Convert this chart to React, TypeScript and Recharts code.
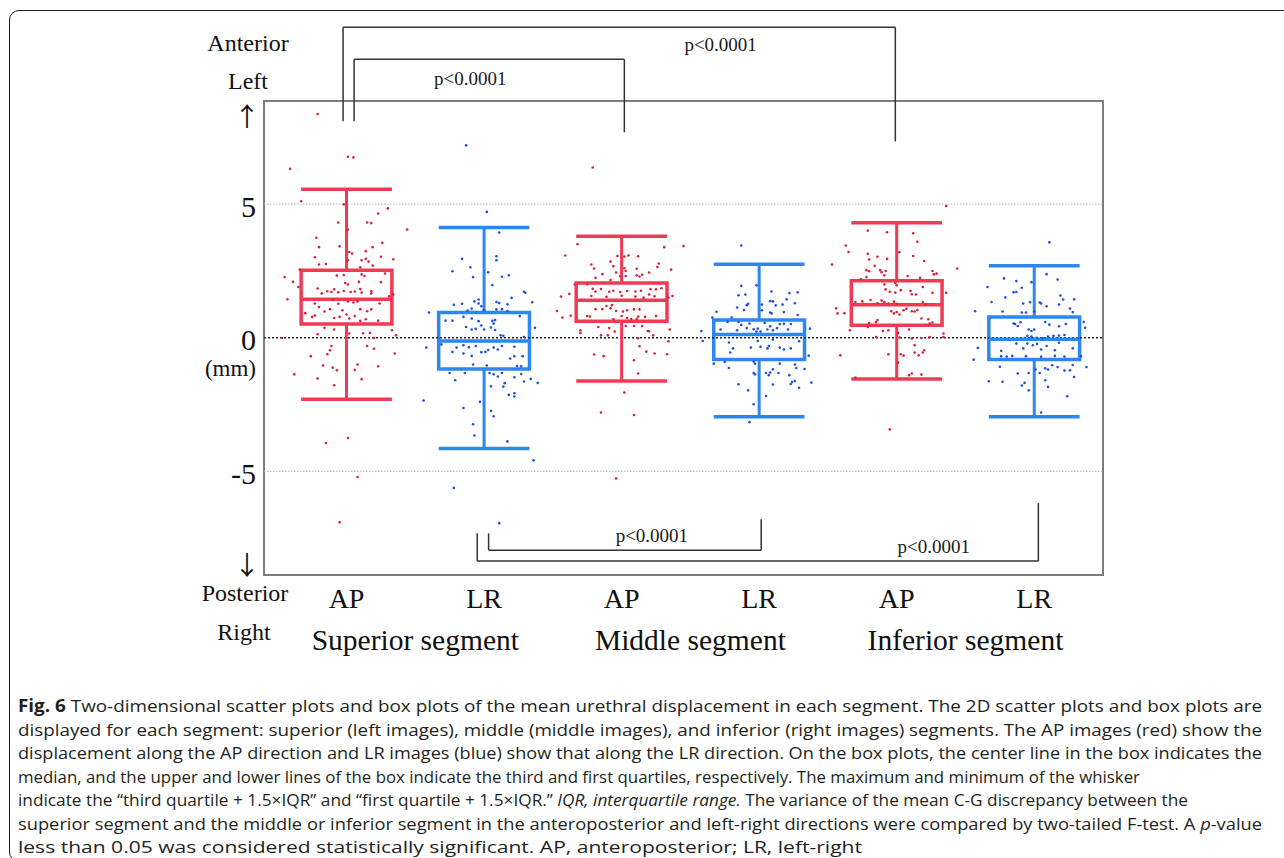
import React from 'react';
import {
  ComposedChart,
  Scatter,
  XAxis,
  YAxis,
  ReferenceArea,
  ReferenceLine,
  ReferenceDot,
} from 'recharts';

const SERIF = "'Liberation Serif', 'Times New Roman', serif";
const SANS = "'Open Sans', 'Noto Sans', sans-serif";

// categories and axes
const categories = ['AP', 'LR', 'AP', 'LR', 'AP', 'LR'];
const positions = [1, 2, 3, 4, 5, 6];
const segments = ['Superior segment', 'Middle segment', 'Inferior segment'];
const segmentPositions = [1.5, 3.5, 5.5];
const yTicks = [-5, 0, 5];
const xDomain: [number, number] = [0.4, 6.5];
const yDomain: [number, number] = [-8.88, 8.86];

// [lower whisker, Q1, median, Q3, upper whisker] in mm
const boxStats = [
  [-2.3, 0.51, 1.44, 2.53, 5.56],
  [-4.15, -1.17, -0.12, 0.94, 4.13],
  [-1.62, 0.62, 1.4, 2.05, 3.8],
  [-2.96, -0.81, 0.12, 0.66, 2.75],
  [-1.54, 0.47, 1.23, 2.13, 4.3],
  [-2.96, -0.81, -0.06, 0.78, 2.69],
];

// scatter points: [horizontal jitter, displacement mm]
const apSuperior: [number, number][] = [
  [-0.21, 8.37], [0.01, 6.77], [0.05, 6.75], [-0.41, 6.32], [-0.33, 5.11], [-0.02, 4.99], [0.3, 4.84], [0.23, 4.65],
  [-0.06, 4.31], [0.01, 4.05], [0.15, 4.31], [0.18, 4.29], [0.44, 4.05], [-0.22, 3.74], [-0.2, 3.39], [-0.05, 3.42],
  [0.19, 3.39], [0.26, 3.55], [-0.23, 3.01], [0.02, 3.21], [0.04, 3.15], [0.14, 3.24], [0.11, 2.9], [0.14, 2.95],
  [0.16, 2.85], [0.19, 2.7], [0.25, 3.03], [0.34, 2.94], [-0.2, 2.74], [-0.15, 2.76], [0.01, 2.9], [0.1, 2.64],
  [-0.45, 2.27], [-0.39, 2.09], [-0.35, 1.9], [-0.34, 2.55], [-0.07, 2.33], [-0.02, 2.35], [-0.01, 2.05], [0.01, 1.99],
  [0.11, 2.37], [0.13, 2.31], [0.09, 2.09], [0.25, 2.08], [0.28, 2.4], [-0.21, 1.84], [-0.18, 1.66], [-0.14, 1.74],
  [-0.11, 1.71], [-0.09, 1.81], [-0.06, 1.7], [-0.02, 1.75], [0.03, 1.71], [0.06, 1.73], [0.1, 1.82], [0.11, 1.69],
  [0.18, 1.74], [0.18, 1.66], [0.31, 1.55], [0.34, 1.62], [-0.43, 1.44], [-0.23, 1.28], [-0.2, 1.15], [-0.16, 0.98],
  [-0.12, 1.07], [-0.1, 1.42], [-0.06, 1.27], [-0.03, 1.03], [0.01, 1.36], [0.05, 1.32], [0.08, 1.36], [0.1, 1.07],
  [0.15, 0.99], [0.18, 1.06], [0.24, 1.28], [-0.3, 0.92], [-0.25, 0.78], [-0.23, 0.83], [-0.09, 0.74], [-0.05, 0.78],
  [0.0, 0.87], [0.02, 0.72], [0.06, 0.81], [0.23, 0.64], [0.1, 0.63], [0.14, 0.69], [-0.16, 0.37], [-0.09, 0.31],
  [0.33, 0.28], [0.36, 0.09], [-0.21, 0.13], [0.02, 0.16], [0.12, 0.17], [0.17, 0.18], [-0.47, -0.01], [0.2, -0.01],
  [-0.11, -0.31], [-0.12, -0.47], [-0.14, -0.62], [0.15, -0.31], [0.2, -0.41], [-0.26, -0.69], [0.35, -0.59],
  [-0.17, -1.04], [-0.1, -1.12], [-0.07, -1.22], [0.08, -1.0], [0.06, -1.21], [0.23, -1.07], [-0.38, -1.37],
  [-0.21, -1.53], [0.11, -1.55], [-0.09, -1.78], [-0.15, -3.94], [0.01, -3.75], [0.08, -5.21], [-0.05, -6.91],
];

const lrSuperior: [number, number][] = [
  [-0.13, 7.2], [0.02, 4.71], [0.11, 3.94], [0.09, 3.05], [0.09, 2.9], [-0.16, 2.95], [-0.1, 2.64], [-0.23, 2.49],
  [0.03, 2.45], [-0.08, 2.27], [0.13, 2.28], [0.18, 2.34], [0.06, 1.97], [0.29, 1.72], [0.3, 1.68], [0.2, 1.49],
  [0.35, 1.33], [-0.07, 1.36], [-0.04, 1.43], [-0.04, 1.28], [-0.22, 1.23], [-0.16, 1.27], [-0.09, 1.09], [-0.12, 1.02],
  [-0.02, 1.18], [0.0, 1.03], [0.09, 1.34], [0.11, 1.3], [0.09, 1.06], [0.13, 1.07], [0.17, 1.25], [0.17, 1.0],
  [-0.4, 0.94], [-0.28, 0.64], [-0.23, 0.64], [-0.15, 0.78], [-0.09, 0.72], [-0.13, 0.4], [-0.09, 0.31], [-0.04, 0.62],
  [-0.02, 0.46], [-0.06, 0.33], [0.0, 0.31], [0.06, 0.63], [0.08, 0.66], [0.07, 0.53], [0.05, 0.38], [0.08, 0.29],
  [0.26, 0.81], [0.12, 0.09], [0.14, 0.07], [0.29, 0.03], [0.37, 0.37], [-0.31, -0.25], [-0.23, -0.53], [-0.2, -0.37],
  [-0.15, -0.28], [-0.11, -0.36], [-0.15, -0.59], [-0.09, -0.68], [-0.06, -0.31], [-0.02, -0.54], [0.01, -0.53],
  [0.03, -0.46], [0.07, -0.37], [0.1, -0.44], [0.13, -0.31], [0.22, -0.34], [0.19, -0.78], [0.22, -0.69], [0.28, -0.69],
  [-0.42, -0.37], [-0.08, -1.0], [0.02, -1.04], [0.24, -1.06], [0.27, -1.07], [-0.25, -1.32], [-0.14, -1.32],
  [-0.21, -1.59], [0.04, -1.32], [0.07, -1.37], [0.1, -1.45], [0.13, -1.32], [0.22, -1.48], [0.27, -1.36], [0.29, -1.64],
  [0.34, -1.54], [0.39, -1.69], [0.05, -1.82], [0.14, -1.83], [0.15, -1.7], [0.18, -2.14], [0.22, -2.08], [0.22, -2.2],
  [-0.44, -2.35], [-0.03, -2.4], [-0.15, -2.63], [0.05, -2.74], [0.07, -2.94], [-0.08, -3.24], [-0.07, -3.66],
  [0.17, -3.88], [0.36, -4.59], [-0.22, -5.62], [0.11, -6.94],
];

const apMiddle: [number, number][] = [
  [-0.21, 6.37], [-0.32, 3.5], [0.31, 3.39], [0.45, 3.43], [-0.41, 3.08], [-0.03, 3.06], [0.02, 3.04], [0.05, 3.08],
  [0.12, 3.05], [-0.08, 2.85], [-0.06, 2.68], [-0.22, 2.74], [-0.2, 2.59], [0.02, 2.6], [0.03, 2.5], [0.27, 2.78],
  [0.26, 2.65], [0.36, 2.55], [-0.14, 2.38], [-0.04, 2.44], [-0.01, 2.3], [0.03, 2.31], [0.11, 2.58], [0.11, 2.34],
  [0.13, 2.29], [0.15, 2.36], [0.2, 2.44], [-0.19, 2.24], [-0.08, 2.16], [-0.34, 1.99], [-0.25, 2.0], [-0.21, 1.83],
  [-0.19, 1.73], [-0.15, 1.82], [-0.09, 1.72], [-0.06, 1.76], [-0.01, 1.71], [0.04, 1.75], [0.1, 1.73], [0.14, 1.76],
  [0.21, 1.82], [0.25, 1.81], [0.29, 1.85], [-0.44, 1.54], [-0.38, 1.64], [-0.22, 1.56], [-0.11, 1.53], [0.0, 1.57],
  [0.1, 1.54], [0.16, 1.5], [0.2, 1.62], [0.24, 1.55], [0.34, 1.5], [0.37, 1.56], [-0.47, 1.0], [-0.43, 0.76],
  [-0.37, 0.82], [-0.25, 0.81], [-0.23, 0.79], [-0.19, 1.07], [-0.14, 1.07], [-0.08, 1.1], [-0.04, 1.0], [-0.11, 1.19],
  [-0.07, 1.22], [0.01, 0.98], [0.04, 1.03], [0.09, 1.06], [0.13, 1.06], [0.0, 0.81], [0.04, 0.74], [0.12, 0.79],
  [0.17, 0.78], [-0.06, 0.69], [0.07, 0.69], [0.11, 0.7], [0.25, 0.81], [-0.3, 0.28], [-0.3, 0.18], [-0.17, 0.4],
  [-0.09, 0.36], [-0.05, 0.23], [0.03, 0.44], [0.09, 0.44], [0.15, 0.44], [0.19, 0.25], [0.2, 0.24], [0.35, 0.31],
  [-0.15, 0.09], [-0.1, 0.09], [0.23, 0.09], [0.12, -0.02], [0.34, -0.13], [0.13, -0.32], [0.18, -0.52], [0.24, -0.59],
  [0.33, -0.62], [-0.2, -0.63], [-0.13, -0.69], [0.09, -0.84], [0.12, -1.34], [0.02, -2.05], [-0.15, -2.8],
  [0.09, -2.89], [-0.04, -5.27],
];

const lrMiddle: [number, number][] = [
  [-0.13, 3.45], [-0.13, 1.94], [-0.02, 1.96], [-0.15, 1.59], [-0.1, 1.62], [0.09, 1.73], [0.22, 1.67], [0.28, 1.7],
  [0.2, 1.44], [0.17, 1.24], [0.26, 1.29], [0.08, 1.37], [0.1, 1.36], [0.12, 1.21], [-0.16, 1.13], [-0.11, 1.04],
  [-0.09, 1.22], [-0.08, 1.27], [0.02, 1.24], [0.02, 1.03], [-0.31, 0.97], [-0.2, 0.76], [-0.34, 0.76], [0.08, 0.94],
  [0.09, 0.91], [0.18, 0.96], [0.28, 0.85], [-0.28, 0.31], [-0.23, 0.59], [-0.15, 0.59], [-0.13, 0.48], [-0.16, 0.28],
  [-0.09, 0.36], [-0.07, 0.53], [-0.04, 0.32], [-0.02, 0.23], [-0.01, 0.34], [0.01, 0.23], [0.04, 0.55], [0.06, 0.31],
  [0.08, 0.43], [0.1, 0.28], [0.13, 0.36], [0.15, 0.51], [0.18, 0.52], [0.21, 0.31], [0.23, 0.51], [0.37, 0.34],
  [-0.42, 0.25], [-0.41, -0.12], [-0.22, -0.18], [-0.19, -0.4], [-0.21, -0.55], [-0.06, -0.37], [-0.01, -0.12],
  [0.01, -0.34], [0.06, -0.4], [0.07, -0.31], [0.1, -0.07], [0.15, -0.37], [0.18, -0.44], [0.23, -0.4], [0.29, -0.13],
  [0.36, -0.67], [0.33, -1.17], [-0.33, -0.97], [-0.25, -0.91], [-0.22, -1.13], [-0.04, -0.89], [-0.03, -0.97],
  [-0.04, -1.32], [-0.03, -1.37], [0.05, -1.32], [0.07, -1.4], [0.08, -1.3], [0.1, -1.18], [0.14, -1.32], [0.15, -0.97],
  [0.26, -1.0], [0.27, -1.13], [0.22, -1.4], [0.23, -1.73], [0.24, -1.66], [0.26, -1.62], [0.29, -1.87], [0.38, -1.68],
  [-0.15, -1.74], [-0.08, -1.97], [0.1, -1.75], [0.05, -2.18], [-0.04, -2.49], [-0.07, -3.16],
];

const apInferior: [number, number][] = [
  [0.36, 4.93], [-0.21, 4.01], [-0.07, 3.95], [0.12, 3.91], [0.15, 3.59], [-0.37, 3.45], [-0.35, 3.21], [-0.21, 3.14],
  [-0.14, 3.03], [-0.07, 2.95], [0.02, 3.2], [0.12, 3.06], [-0.47, 2.74], [-0.2, 2.93], [-0.16, 2.69], [0.2, 2.87],
  [0.44, 2.59], [-0.22, 2.53], [-0.2, 2.49], [-0.12, 2.53], [-0.11, 2.45], [-0.09, 2.34], [-0.08, 2.5], [0.08, 2.31],
  [0.17, 2.24], [0.26, 2.5], [0.27, 2.37], [0.29, 2.4], [-0.26, 2.19], [-0.22, 2.27], [-0.09, 1.99], [-0.01, 2.05],
  [0.0, 1.96], [-0.08, 1.81], [-0.05, 1.72], [-0.01, 1.69], [0.03, 1.78], [0.1, 1.75], [0.14, 1.62], [0.19, 1.9],
  [0.26, 1.68], [0.36, 1.68], [0.11, 1.63], [-0.3, 1.34], [-0.25, 1.36], [-0.19, 1.41], [-0.14, 1.29], [-0.11, 1.39],
  [-0.09, 1.33], [-0.06, 1.28], [-0.02, 1.35], [0.0, 1.27], [0.19, 1.34], [0.21, 1.25], [-0.44, 1.1], [-0.43, 0.91],
  [-0.38, 0.92], [-0.04, 0.99], [-0.02, 0.91], [0.0, 0.96], [0.02, 0.87], [0.05, 1.03], [0.07, 1.08], [0.11, 0.99],
  [0.13, 0.98], [0.15, 1.04], [0.18, 0.72], [0.23, 0.69], [0.24, 0.53], [0.26, 0.57], [-0.2, 0.55], [-0.15, 0.59],
  [-0.14, 0.66], [-0.34, 0.28], [-0.21, 0.4], [-0.1, 0.25], [-0.06, 0.28], [0.01, 0.18], [0.02, 0.01], [0.09, 0.31],
  [-0.15, 0.03], [0.11, -0.03], [0.18, -0.01], [0.24, 0.03], [0.34, 0.16], [0.34, 0.03], [0.13, -0.28], [0.2, -0.47],
  [0.19, -0.55], [0.13, -0.55], [-0.41, -0.66], [-0.06, -0.62], [0.03, -0.62], [0.05, -0.67], [0.16, -0.66],
  [0.01, -0.93], [0.09, -1.4], [0.11, -1.34], [0.18, -1.38], [-0.3, -1.49], [-0.05, -3.43],
];

const lrInferior: [number, number][] = [
  [0.11, 3.57], [0.09, 2.38], [0.17, 2.18], [-0.22, 2.22], [-0.13, 2.12], [-0.02, 2.08], [-0.34, 1.9], [-0.09, 1.87],
  [-0.15, 1.7], [-0.13, 1.71], [-0.31, 1.34], [-0.21, 1.51], [0.19, 1.58], [0.21, 1.43], [0.29, 1.44], [-0.08, 1.28],
  [-0.03, 1.33], [0.04, 1.32], [0.05, 1.28], [0.09, 1.18], [0.18, 1.24], [-0.43, 0.99], [-0.23, 0.98], [-0.09, 0.94],
  [-0.06, 0.94], [0.0, 0.98], [0.26, 1.09], [0.28, 0.96], [-0.15, 0.53], [-0.14, 0.51], [-0.1, 0.58], [-0.12, 0.44],
  [-0.04, 0.31], [-0.02, 0.25], [0.0, 0.31], [0.08, 0.59], [0.11, 0.49], [0.18, 0.43], [0.23, 0.51], [0.36, 0.59],
  [0.37, 0.37], [-0.05, 0.07], [-0.02, 0.04], [0.02, 0.0], [0.06, -0.02], [0.1, 0.04], [0.14, 0.07], [0.18, 0.08],
  [0.22, 0.1], [-0.41, -0.38], [-0.44, -0.82], [-0.33, -1.63], [-0.24, -0.49], [-0.13, -0.22], [-0.08, -0.4],
  [-0.05, -0.22], [-0.01, -0.28], [0.02, -0.23], [0.05, -0.44], [0.09, -0.31], [0.15, -0.47], [0.18, -0.19],
  [0.28, -0.4], [-0.24, -0.69], [-0.2, -0.7], [-0.16, -0.68], [-0.06, -0.69], [0.05, -0.71], [0.15, -0.68], [0.22, -0.7],
  [0.34, -0.69], [-0.25, -1.09], [-0.12, -1.34], [-0.04, -1.32], [0.01, -1.19], [0.04, -1.32], [0.08, -1.14],
  [0.1, -1.19], [0.13, -1.03], [0.17, -1.1], [0.22, -1.23], [0.26, -1.22], [0.28, -1.02], [0.29, -1.47], [0.38, -1.1],
  [-0.23, -1.65], [-0.07, -1.69], [-0.09, -1.79], [-0.04, -1.97], [0.08, -1.59], [0.1, -1.84], [0.24, -2.19],
  [0.05, -2.8],
];

const groupPoints = [apSuperior, lrSuperior, apMiddle, lrMiddle, apInferior, lrInferior];

// significance brackets (x in category units, y in mm)
const brackets = [
  { x1: 0.975, x2: 4.99, yLeft: 8.1, yRight: 7.35, yBar: 11.62, labelX: 3.72, labelY: 10.98 },
  { x1: 1.055, x2: 3.02, yLeft: 8.1, yRight: 7.69, yBar: 10.42, labelX: 1.9, labelY: 9.71 },
  { x1: 2.033, x2: 4.015, yLeft: -7.32, yRight: -6.79, yBar: -7.95, labelX: 3.22, labelY: -7.39 },
  { x1: 1.95, x2: 6.03, yLeft: -7.32, yRight: -6.19, yBar: -8.36, labelX: 5.27, labelY: -7.8 },
];
const bracketLabel = 'p<0.0001';

const captionLines = [
  { parts: [['b', 'Fig. 6'], ['n', ' Two-dimensional scatter plots and box plots of the mean urethral displacement in each segment. The 2D scatter plots and box plots are']], width: 1244 },
  { parts: [['n', 'displayed for each segment: superior (left images), middle (middle images), and inferior (right images) segments. The AP images (red) show the']], width: 1244 },
  { parts: [['n', 'displacement along the AP direction and LR images (blue) show that along the LR direction. On the box plots, the center line in the box indicates the']], width: 1244 },
  { parts: [['n', 'median, and the upper and lower lines of the box indicate the third and first quartiles, respectively. The maximum and minimum of the whisker']], width: 1122 },
  { parts: [['n', 'indicate the \u201cthird quartile + 1.5\u00d7IQR\u201d and \u201cfirst quartile + 1.5\u00d7IQR.\u201d '], ['i', 'IQR, interquartile range.'], ['n', ' The variance of the mean C-G discrepancy between the']], width: 1170 },
  { parts: [['n', 'superior segment and the middle or inferior segment in the anteroposterior and left-right directions were compared by two-tailed F-test. A '], ['i', 'p'], ['n', '-value']], width: 1244 },
  { parts: [['n', 'less than 0.05 was considered statistically significant. AP, anteroposterior; LR, left-right']], width: 844 },
];

const AP_BOX = '#f23a55';
const AP_DOT = '#d8223c';
const LR_BOX = '#2e86f0';
const LR_DOT = '#1d50dd';
const BOX_HALF = 0.33;

function YTick({ x, y, payload }: any) {
  return (
    <g>
      <text x={x} y={y} dy={2} textAnchor="end" dominantBaseline="central" fontSize={30} fontFamily={SERIF} fill="#111">
        {payload.value}
      </text>
      {payload.value === 0 && (
        <text x={x} y={y} dy={31} textAnchor="end" dominantBaseline="central" fontSize={23} fontFamily={SERIF} fill="#111">
          (mm)
        </text>
      )}
    </g>
  );
}

function XTick({ x, y, payload, index }: any) {
  return (
    <text x={x} y={y} dy={15} textAnchor="middle" dominantBaseline="central" fontSize={28} fontFamily={SERIF} fill="#111">
      {categories[index] ?? payload.value}
    </text>
  );
}

function SegTick({ x, y, index }: any) {
  return (
    <text x={x} y={y} dy={15} textAnchor="middle" dominantBaseline="central" fontSize={29.5} fontFamily={SERIF} fill="#111">
      {segments[index]}
    </text>
  );
}

function SideLabels({ viewBox }: any) {
  if (!viewBox) return null;
  const cx = viewBox.x + viewBox.width - 16;
  const top = viewBox.y;
  const bottom = viewBox.y + viewBox.height;
  const common = { textAnchor: 'middle' as const, dominantBaseline: 'central' as const, fill: '#111' };
  return (
    <g>
      <text {...common} x={cx} y={top - 58} fontSize={24} fontFamily={SERIF}>Anterior</text>
      <text {...common} x={cx} y={top - 20} fontSize={24} fontFamily={SERIF}>Left</text>
      <text {...common} x={cx - 1} y={top + 13} fontSize={26} fontFamily="'Noto Sans CJK JP', sans-serif">{'\u2191'}</text>
      <text {...common} x={cx - 1} y={bottom - 12} fontSize={26} fontFamily="'Noto Sans CJK JP', sans-serif">{'\u2193'}</text>
      <text {...common} x={cx - 3} y={bottom + 18} fontSize={24} fontFamily={SERIF}>Posterior</text>
      <text {...common} x={cx - 4} y={bottom + 57} fontSize={24} fontFamily={SERIF}>Right</text>
    </g>
  );
}

function Caption() {
  return (
    <svg width={1284} height={858} style={{ position: 'absolute', left: 0, top: 0, pointerEvents: 'none' }}>
      {captionLines.map((line, i) => (
        <text
          key={i}
          x={18}
          y={705 + i * 23.5}
          dominantBaseline="central"
          fontSize={17}
          fontFamily={SANS}
          fill="#231f20"
          textLength={line.width}
          lengthAdjust="spacingAndGlyphs"
        >
          {line.parts.map(([style, txt], j) => (
            <tspan key={j} fontWeight={style === 'b' ? 700 : 400} fontStyle={style === 'i' ? 'italic' : 'normal'}>
              {txt}
            </tspan>
          ))}
        </text>
      ))}
    </svg>
  );
}

export default function App() {
  return (
    <div style={{ position: 'absolute', left: 0, top: 0, width: 1284, height: 858, overflow: 'hidden', background: '#fff' }}>
      <div
        style={{
          position: 'absolute',
          left: 9,
          top: 10,
          width: 1300,
          height: 852,
          border: '1.5px solid #1e1e1e',
          borderRadius: 10,
          boxSizing: 'border-box',
        }}
      />
      <div style={{ position: 'absolute', left: 0, top: 0 }}>
        <ComposedChart width={1284} height={858} margin={{ top: 101, right: 181, bottom: 196, left: 184 }}>
          <XAxis
            dataKey="x"
            type="number"
            domain={xDomain}
            ticks={positions}
            allowDataOverflow
            axisLine={false}
            tickLine={false}
            height={42}
            tick={<XTick />}
            interval={0}
          />
          <XAxis
            xAxisId="seg"
            dataKey="x"
            type="number"
            domain={xDomain}
            ticks={segmentPositions}
            allowDataOverflow
            axisLine={false}
            tickLine={false}
            height={45}
            tick={<SegTick />}
            interval={0}
          />
          <YAxis
            dataKey="y"
            type="number"
            domain={yDomain}
            ticks={yTicks}
            allowDataOverflow
            axisLine={false}
            tickLine={false}
            width={80}
            tick={<YTick />}
            interval={0}
            label={{ content: (p: any) => <SideLabels viewBox={p.viewBox} /> }}
          />

          <ReferenceArea
            x1={xDomain[0]}
            x2={xDomain[1]}
            y1={yDomain[0]}
            y2={yDomain[1]}
            fill="none"
            stroke="#7d7d7d"
            strokeWidth={2}
            ifOverflow="visible"
          />
          <ReferenceLine y={5} stroke="#b5b5b5" strokeDasharray="1.5 1.5" strokeWidth={1} />
          <ReferenceLine y={-5} stroke="#b5b5b5" strokeDasharray="1.5 1.5" strokeWidth={1} />
          <ReferenceLine y={0} stroke="#222" strokeDasharray="2 2" strokeWidth={1.4} />

          {boxStats.map((s, i) => {
            const p = positions[i];
            const c = i % 2 === 0 ? AP_BOX : LR_BOX;
            const [lo, q1, med, q3, hi] = s;
            return [
              <ReferenceLine key={`wl${i}`} segment={[{ x: p, y: lo }, { x: p, y: q1 }]} stroke={c} strokeWidth={3} ifOverflow="visible" />,
              <ReferenceLine key={`wh${i}`} segment={[{ x: p, y: q3 }, { x: p, y: hi }]} stroke={c} strokeWidth={3} ifOverflow="visible" />,
              <ReferenceLine key={`cl${i}`} segment={[{ x: p - BOX_HALF, y: lo }, { x: p + BOX_HALF, y: lo }]} stroke={c} strokeWidth={3.5} ifOverflow="visible" />,
              <ReferenceLine key={`ch${i}`} segment={[{ x: p - BOX_HALF, y: hi }, { x: p + BOX_HALF, y: hi }]} stroke={c} strokeWidth={3.5} ifOverflow="visible" />,
              <ReferenceArea key={`bx${i}`} x1={p - BOX_HALF} x2={p + BOX_HALF} y1={q1} y2={q3} fill="none" stroke={c} strokeWidth={3.5} ifOverflow="visible" />,
              <ReferenceLine key={`md${i}`} segment={[{ x: p - BOX_HALF, y: med }, { x: p + BOX_HALF, y: med }]} stroke={c} strokeWidth={3.5} ifOverflow="visible" />,
            ];
          })}

          {groupPoints.map((pts, i) => {
            const color = i % 2 === 0 ? AP_DOT : LR_DOT;
            const data = pts.map(([j, v]) => ({ x: positions[i] + j, y: v }));
            return (
              <Scatter
                key={`sc${i}`}
                data={data}
                isAnimationActive={false}
                shape={(p: any) => <circle cx={p.cx} cy={p.cy} r={1.3} fill={color} />}
              />
            );
          })}

          {brackets.map((b, i) => [
            <ReferenceLine key={`bl${i}`} segment={[{ x: b.x1, y: b.yLeft }, { x: b.x1, y: b.yBar }]} stroke="#333" strokeWidth={1.5} ifOverflow="visible" />,
            <ReferenceLine key={`bb${i}`} segment={[{ x: b.x1, y: b.yBar }, { x: b.x2, y: b.yBar }]} stroke="#333" strokeWidth={1.5} ifOverflow="visible" />,
            <ReferenceLine key={`br${i}`} segment={[{ x: b.x2, y: b.yBar }, { x: b.x2, y: b.yRight }]} stroke="#333" strokeWidth={1.5} ifOverflow="visible" />,
            <ReferenceDot
              key={`bt${i}`}
              x={b.labelX}
              y={b.labelY}
              r={1}
              fill="none"
              stroke="none"
              ifOverflow="visible"
              label={{ value: bracketLabel, position: 'center', fontSize: 19, fontFamily: SERIF, fill: '#1a1a1a' }}
            />,
          ])}
        </ComposedChart>
      </div>
      <Caption />
    </div>
  );
}
